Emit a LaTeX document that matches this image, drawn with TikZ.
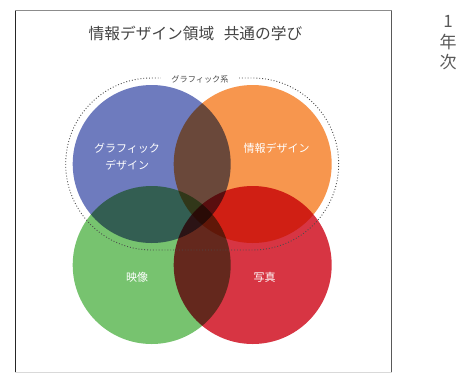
\documentclass[tikz,border=0pt]{standalone}
\usepackage{fontspec}
\newfontfamily\jp{Noto Sans CJK JP}
\definecolor{cblue}{HTML}{6E7BBE}
\definecolor{corange}{HTML}{F7964E}
\definecolor{cgreen}{HTML}{77C36F}
\definecolor{cred}{HTML}{D73543}
\definecolor{txtgray}{HTML}{444444}
\tikzset{
  venn/.style={blend mode=multiply},
  inlabel/.style={text=white, font=\jp\fontsize{11}{17}\selectfont, inner sep=0pt},
  framebase/.style={line width=1pt}
}
\begin{document}
\begin{tikzpicture}[x=1pt,y=-1pt]
\useasboundingbox (0,0) rectangle (463,373);
% frame
\draw[framebase, color=black!85] (15,10.5) -- (15,372.5);
\draw[framebase, color=black!45] (15,10.5) -- (391.7,10.5);
\draw[framebase, color=black!65] (391.7,10.5) -- (391.7,372.5);
\draw[framebase, color=black!15] (15,372.5) -- (391.7,372.5);
% title
\node[font=\jp\fontsize{15.7}{18}\selectfont, text=txtgray, inner sep=0pt] (title) at (195.5,33) {情報デザイン領域\hspace{0.6em}共通の学び};
% side label
\node[font=\jp\fontsize{17}{20.5}\selectfont, text=black!65, align=center, inner sep=0pt] (year) at (448,43) {1\\年\\次};
% circles
\fill[venn, cblue] (151.7,164) circle (79);
\fill[venn, corange] (252.7,164) circle (79);
\fill[venn, cgreen] (151.7,265) circle (79);
\fill[venn, cred] (252.7,265) circle (79);
% dotted stadium
\draw[dotted, line width=0.9pt, color=black!70, rounded corners=86pt] (65.7,78) rectangle (338.7,250);
\node[fill=white, inner xsep=10pt, inner ysep=1pt, font=\jp\fontsize{8.2}{10}\selectfont, text=black!70] (grp) at (200,79) {グラフィック系};
% labels
\node[inlabel, align=center] (gd) at (127,156.5) {グラフィック\\デザイン};
\node[inlabel] (id) at (276.7,148) {情報デザイン};
\node[inlabel] (ei) at (137,277) {映像};
\node[inlabel] (sh) at (264.7,277) {写真};
\end{tikzpicture}
\end{document}
